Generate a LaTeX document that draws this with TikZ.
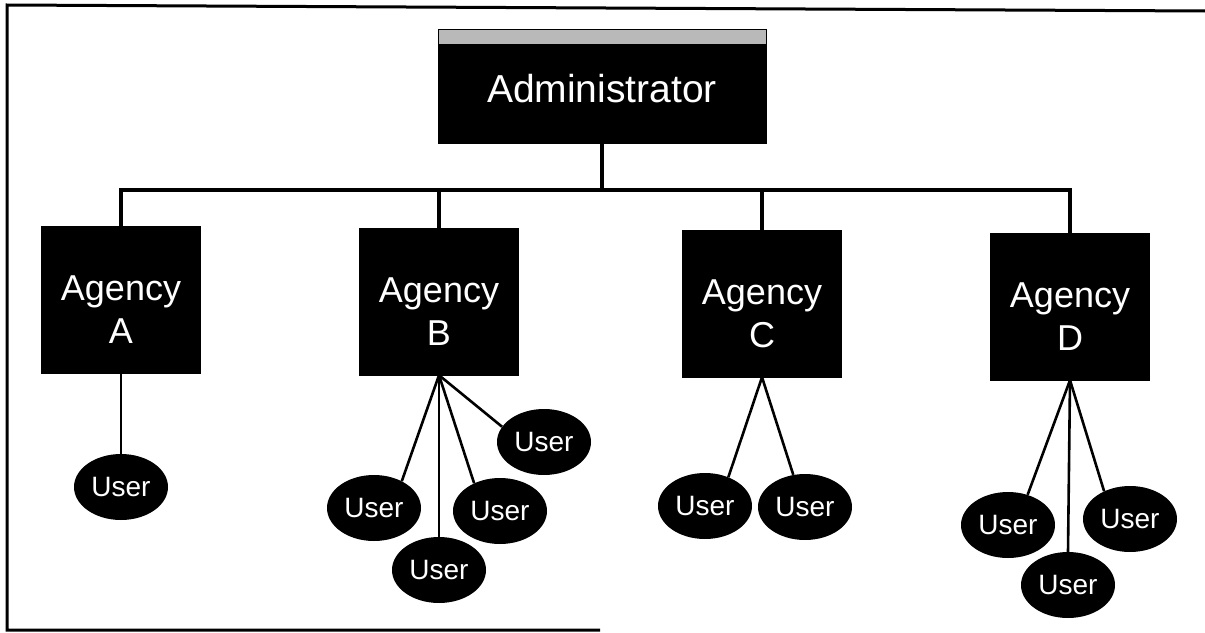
\documentclass[tikz,border=0pt]{standalone}
\usepackage{fontspec}
\setmainfont{Liberation Sans}
\usetikzlibrary{shapes.geometric}
\begin{document}
\begin{tikzpicture}[x=1pt,y=-1pt,
  box/.style={fill=black,draw=black,inner sep=0pt},
  agency/.style={box,minimum width=159pt,minimum height=147pt},
  agtext/.style={text=white,align=center,inner sep=0pt,font=\fontsize{36}{43}\selectfont},
  user/.style={ellipse,fill=black,text=white,inner sep=0pt,minimum width=94pt,minimum height=66pt,font=\fontsize{28}{30}\selectfont},
  bus/.style={line width=3.5pt},
  link/.style={line width=2.6pt},
  frame/.style={line width=3pt}]
\useasboundingbox (0,0) rectangle (1205,632);
% frame (scanned border: top, left, part of bottom)
\draw[frame] (1205,11) -- (7,5) -- (7,630) -- (600,630);
% administrator
\node[box,minimum width=328pt,minimum height=114pt,
  path picture={\fill[gray!55] (path picture bounding box.north west) rectangle ([yshift=-15pt]path picture bounding box.north east);}]
  (adm) at (602,86) {};
\node[text=white,inner sep=0pt,font=\fontsize{39}{44}\selectfont] (admt) at ([yshift=-3pt]adm.center) {Administrator};
% agencies
\node[agency] (aA) at (121,300) {};
\node[agency] (aB) at (439,301.5) {};
\node[agency] (aC) at (762,303.5) {};
\node[agency] (aD) at (1070,306.5) {};
\node[agtext] (tA) at ([yshift=-10pt]aA.center) {Agency\\A};
\node[agtext] (tB) at ([yshift=-10pt]aB.center) {Agency\\B};
\node[agtext] (tC) at ([yshift=-10pt]aC.center) {Agency\\C};
\node[agtext] (tD) at ([yshift=-10pt]aD.center) {Agency\\D};
\coordinate (busy) at (0,190);
% bus
\draw[bus] (aA.north) -- (aA.north |- busy) -- (aD.north |- busy) -- (aD.north);
\draw[bus] (adm.south) -- (adm.south |- busy);
\draw[bus] (aB.north) -- (aB.north |- busy);
\draw[bus] (aC.north) -- (aC.north |- busy);
% users
\node[user] (uA) at (121,487) {User};
\node[user] (uB1) at (374,508) {User};
\node[user] (uB2) at (439,570) {User};
\node[user] (uB3) at (500,511) {User};
\node[user] (uB4) at (544,442) {User};
\node[user] (uC1) at (705,506) {User};
\node[user] (uC2) at (805,507) {User};
\node[user] (uD1) at (1008,525) {User};
\node[user] (uD2) at (1068,585) {User};
\node[user] (uD3) at (1130,519) {User};
% links
\draw[link] (aA.south) -- (uA.north);
\draw[link] (aB.south) -- (uB1.44);
\draw[link] (aB.south) -- (uB2.north);
\draw[link] (aB.south) -- (uB3.133);
\draw[link] (aB.south) -- (uB4.160);
\draw[link] (aC.south) -- (uC1.51);
\draw[link] (aC.south) -- (uC2.110);
\draw[link] (aD.south) -- (uD1.57);
\draw[link] (aD.south) -- (uD2.north);
\draw[link] (aD.south) -- (uD3.133);
\end{tikzpicture}
\end{document}
